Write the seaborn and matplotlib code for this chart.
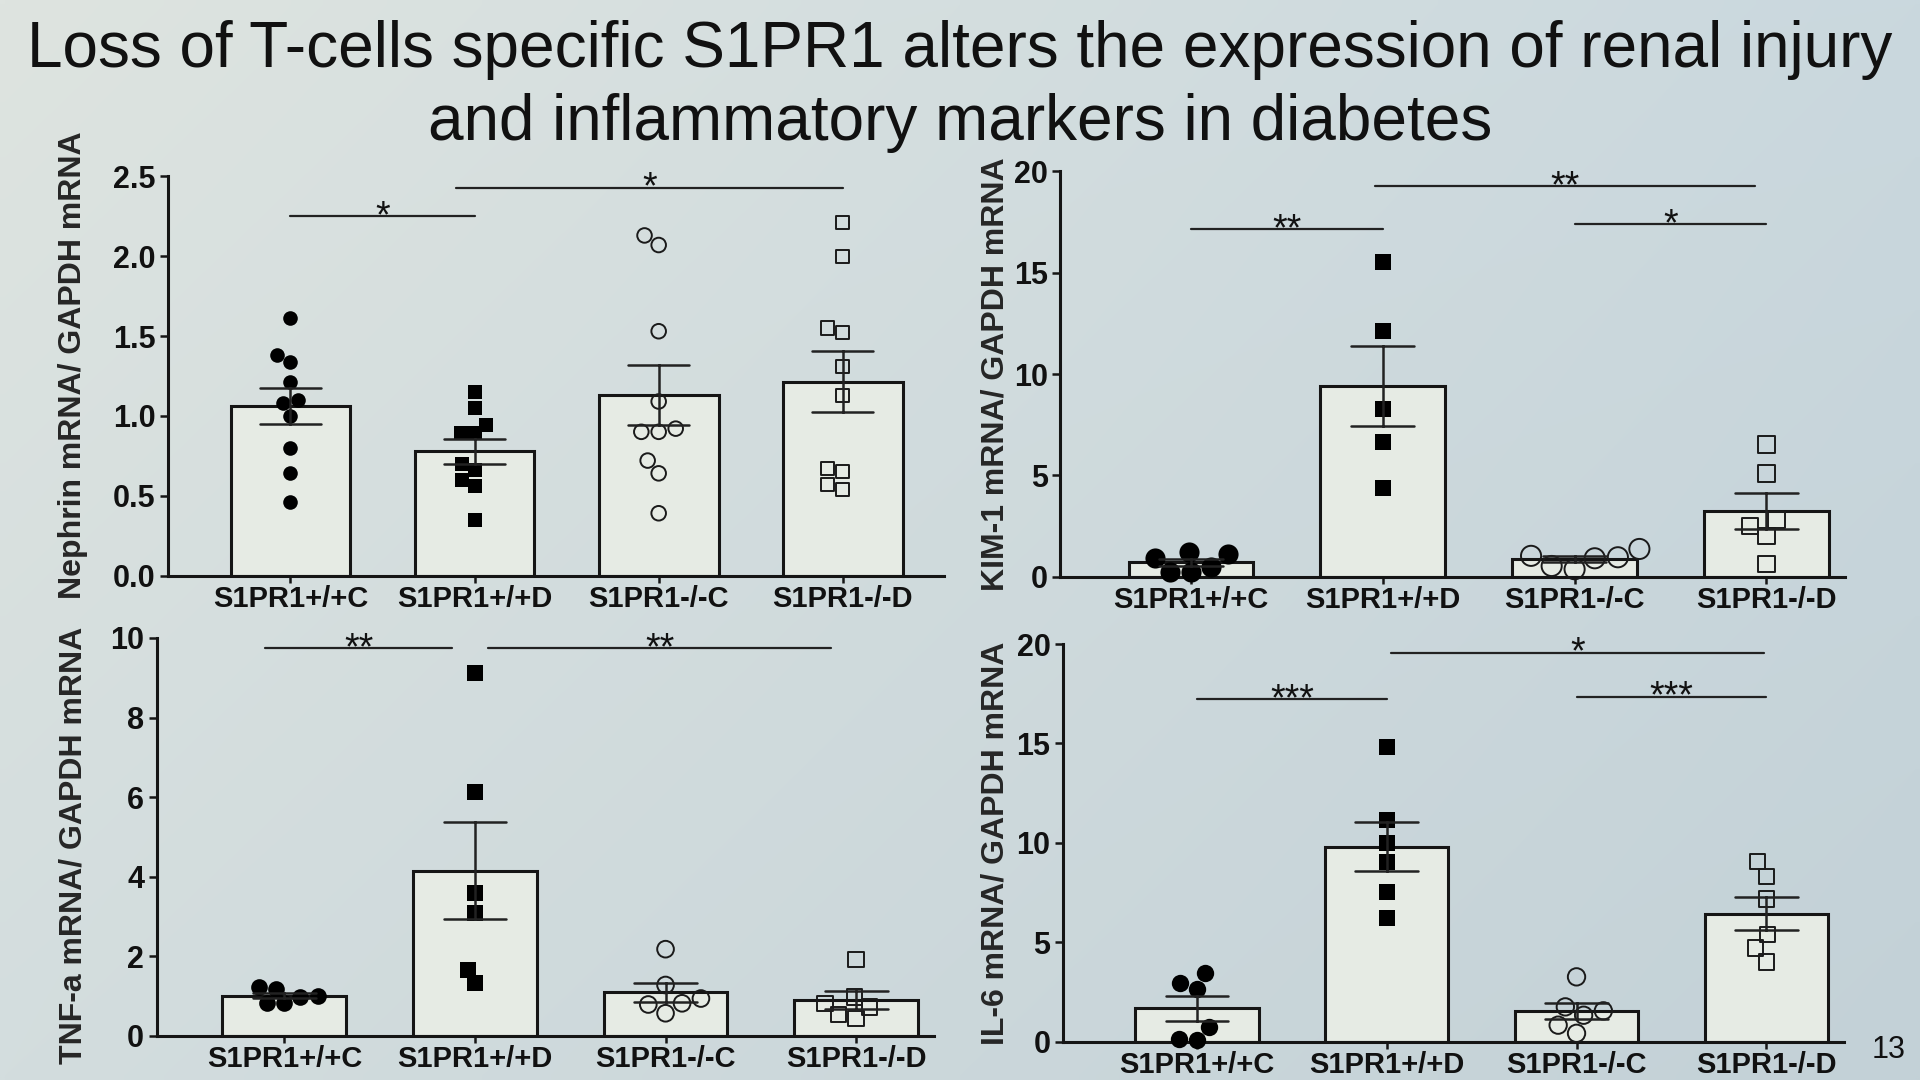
import numpy as np
import pandas as pd
import matplotlib
matplotlib.use("Agg")
import matplotlib.pyplot as plt
import seaborn as sns

# ---------------- data ----------------
categories = ["S1PR1+/+C", "S1PR1+/+D", "S1PR1-/-C", "S1PR1-/-D"]

nephrin_wt_c = [1.61, 1.38, 1.34, 1.21, 1.10, 1.08, 1.00, 0.80, 0.64, 0.46]
nephrin_wt_d = [1.15, 1.05, 0.94, 0.89, 0.89, 0.70, 0.66, 0.60, 0.56, 0.35]
nephrin_ko_c = [2.13, 2.07, 1.53, 1.09, 0.92, 0.90, 0.90, 0.72, 0.64, 0.39]
nephrin_ko_d = [2.21, 2.00, 1.52, 1.55, 1.31, 1.13, 0.65, 0.67, 0.54, 0.57]

kim1_wt_c = [0.94, 0.25, 1.10, 0.25, 1.24, 0.50]
kim1_wt_d = [15.53, 12.13, 8.28, 6.65, 4.40]
kim1_ko_c = [0.53, 1.03, 0.91, 0.96, 1.37, 0.37]
kim1_ko_d = [6.52, 5.10, 2.50, 2.80, 2.01, 0.63]

tnf_wt_c = [1.19, 0.82, 1.00, 1.24, 0.84, 0.99]
tnf_wt_d = [9.11, 6.14, 3.60, 3.08, 1.66, 1.32]
tnf_ko_c = [2.18, 1.28, 0.94, 0.82, 0.79, 0.57]
tnf_ko_d = [1.92, 0.98, 0.73, 0.44, 0.82, 0.53]

il6_wt_c = [3.46, 2.96, 2.67, 0.72, 0.08, 0.12]
il6_wt_d = [14.83, 11.13, 10.00, 9.05, 7.55, 6.21]
il6_ko_c = [3.26, 1.75, 1.55, 1.33, 0.83, 0.42]
il6_ko_d = [9.05, 8.30, 7.18, 5.38, 4.71, 4.01]

nephrin_yticks = [0.0, 0.5, 1.0, 1.5, 2.0, 2.5]
kim1_yticks = [0, 5, 10, 15, 20]
tnf_yticks = [0, 2, 4, 6, 8, 10]
il6_yticks = [0, 5, 10, 15, 20]

# significance annotations: (from group, to group, height, label)
nephrin_sig = [(0.0, 1.0, 2.25, "*"), (0.9, 3.0, 2.43, "*")]
kim1_sig = [(0.0, 1.0, 17.16, "**"), (0.96, 2.94, 19.27, "**"), (2.0, 3.0, 17.4, "*")]
tnf_sig = [(-0.1, 0.88, 9.75, "**"), (1.07, 2.87, 9.75, "**")]
il6_sig = [(0.0, 1.0, 17.24, "***"), (1.02, 2.99, 19.57, "*"), (2.0, 3.0, 17.36, "***")]

title_text = ("Loss of T-cells specific S1PR1 alters the expression of renal injury\n"
              "and inflammatory markers in diabetes")

# ---------------- style ----------------
sns.set_style("ticks")
plt.rcParams["font.family"] = ["Liberation Sans", "DejaVu Sans"]

fig = plt.figure(figsize=(19.2, 10.8), dpi=100)

# background gradient
bg = fig.add_axes([0, 0, 1, 1], zorder=-10)
c_tl = np.array([0xde, 0xe4, 0xe0]) / 255
c_tr = np.array([0xca, 0xd8, 0xde]) / 255
c_bl = np.array([0xd3, 0xdd, 0xde]) / 255
c_br = np.array([0xc3, 0xd1, 0xd7]) / 255
gx = np.linspace(0, 1, 200)[None, :, None]
gy = np.linspace(0, 1, 120)[:, None, None]
grad = (c_tl * (1 - gx) * (1 - gy) + c_tr * gx * (1 - gy)
        + c_bl * (1 - gx) * gy + c_br * gx * gy)
bg.imshow(grad, aspect="auto", extent=[0, 1, 0, 1], interpolation="bilinear")
bg.axis("off")

bar_color = "#e6ebe4"
line_color = "#151515"
markers = [("o", True), ("s", True), ("o", False), ("s", False)]

panels = [
    dict(groups=[nephrin_wt_c, nephrin_wt_d, nephrin_ko_c, nephrin_ko_d],
         ylabel="Nephrin mRNA/ GAPDH mRNA", ylim=(0, 2.5), yticks=nephrin_yticks,
         fmt="{:.1f}", rect=[0.0874, 0.4671, 0.4043, 0.3696], xlim=(-0.666, 3.55),
         size=(10.5, 9.5), sig=nephrin_sig, label_xy=(-0.1025, 0.528)),
    dict(groups=[kim1_wt_c, kim1_wt_d, kim1_ko_c, kim1_ko_d],
         ylabel="KIM-1 mRNA/ GAPDH mRNA", ylim=(0, 20), yticks=kim1_yticks,
         fmt="{:d}", rect=[0.5523, 0.4660, 0.4087, 0.3753], xlim=(-0.68, 3.41),
         size=(14.5, 12), sig=kim1_sig, label_xy=(-0.064, 0.5)),
    dict(groups=[tnf_wt_c, tnf_wt_d, tnf_ko_c, tnf_ko_d],
         ylabel="TNF-a mRNA/ GAPDH mRNA", ylim=(0, 10), yticks=tnf_yticks,
         fmt="{:d}", rect=[0.0816, 0.0408, 0.4050, 0.3685], xlim=(-0.67, 3.41),
         size=(12, 11), sig=tnf_sig, label_xy=(-0.088, 0.48)),
    dict(groups=[il6_wt_c, il6_wt_d, il6_ko_c, il6_ko_d],
         ylabel="IL-6 mRNA/ GAPDH mRNA", ylim=(0, 20), yticks=il6_yticks,
         fmt="{:d}", rect=[0.5536, 0.0355, 0.4069, 0.3681], xlim=(-0.706, 3.41),
         size=(12.5, 11), sig=il6_sig, label_xy=(-0.067, 0.5)),
]

for p in panels:
    ax = fig.add_axes(p["rect"])
    ax.set_facecolor("none")
    rows = []
    for cat, vals in zip(categories, p["groups"]):
        for v in vals:
            rows.append({"group": cat, "value": v})
    df = pd.DataFrame(rows)

    sns.barplot(data=df, x="group", y="value", order=categories,
                errorbar="se", capsize=0.33, width=0.65, color=bar_color,
                saturation=1, edgecolor=line_color, linewidth=2.2,
                err_kws={"color": "#222222", "linewidth": 1.8}, ax=ax)
    for ln in ax.lines:
        ln.set_zorder(4)

    for cat, (mk, filled) in zip(categories, markers):
        sub = df[df["group"] == cat]
        sz = p["size"][0] if mk == "o" else p["size"][1]
        n_before = len(ax.collections)
        sns.swarmplot(data=sub, x="group", y="value", order=categories,
                      marker=mk, size=sz, color="black", linewidth=0,
                      zorder=3, ax=ax, warn_thresh=1.0)
        for coll in list(ax.collections[n_before:]):
            if len(coll.get_offsets()) == 0:
                coll.remove()
                continue
            coll.set_clip_on(False)
            if not filled:
                coll.set_facecolor("none")
                coll.set_edgecolor("#1a1a1a")
                coll.set_linewidth(1.4)

    ax.set_xlim(*p["xlim"])
    ax.set_ylim(*p["ylim"])
    ax.set_yticks(p["yticks"])
    ax.set_yticklabels([p["fmt"].format(t) for t in p["yticks"]],
                       fontsize=22, fontweight="bold")
    ax.set_xticks(range(len(categories)))
    ax.set_xticklabels(categories, fontsize=21, fontweight="bold")
    ax.set_xlabel("")
    ax.set_ylabel(p["ylabel"], fontsize=23, fontweight="bold")
    ax.yaxis.set_label_coords(*p["label_xy"])
    sns.despine(ax=ax)
    for s in ["left", "bottom"]:
        ax.spines[s].set_linewidth(2.2)
        ax.spines[s].set_color(line_color)
    ax.tick_params(axis="y", length=6, width=1.8, color=line_color,
                   labelcolor="#111111", pad=3)
    ax.tick_params(axis="x", length=5, width=1.8, color=line_color,
                   labelcolor="#111111", pad=1.5)

    for x1, x2, h, lab in p["sig"]:
        ax.plot([x1, x2], [h, h], color="#222222", lw=1.6, clip_on=False)
        ax.annotate(lab, xy=((x1 + x2) / 2, h), xytext=(0, -8),
                    textcoords="offset points", ha="center", va="baseline",
                    fontsize=27, color="#111111", annotation_clip=False)

fig.text(0.5, 0.92, title_text, ha="center", va="center",
         fontsize=46, color="#111111", linespacing=1.28)
fig.text(0.9835, 0.028, "13", ha="center", va="center", fontsize=22,
         color="#111111")

fig.savefig("out.png", dpi=100)
